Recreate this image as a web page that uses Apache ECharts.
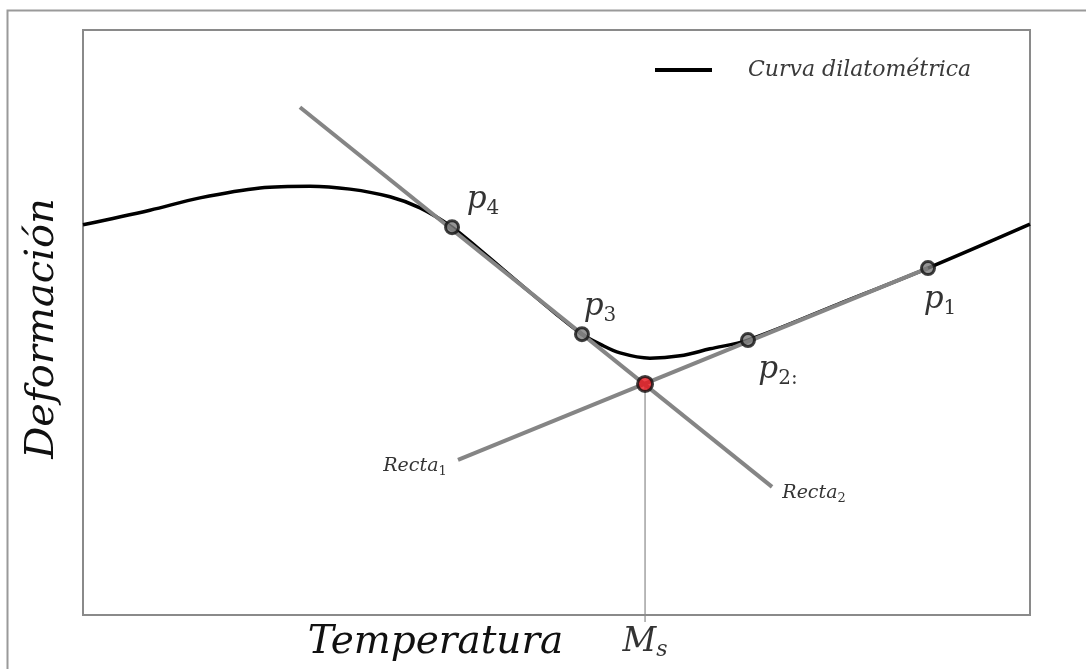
<!DOCTYPE html>
<html>
<head>
<meta charset="utf-8">
<script src="https://cdn.jsdelivr.net/npm/echarts@6/dist/echarts.min.js"></script>
<style>
html,body{margin:0;padding:0;background:#fff;}
#chart{width:1086px;height:669px;}
</style>
</head>
<body>
<div id="chart"></div>
<script>
// Dilatometric curve (Temperatura vs Deformación), arbitrary units 0-100
const curveX = [0, 7.07, 12.35, 18.69, 23.97, 28.19, 32.42, 35.59, 38.97, 41.92, 46.15, 49.84, 52.69, 54.59, 56.71, 59.87, 63.04, 66.21, 70.22, 79.7, 89.23, 100];
const curveY = [66.7, 69.2, 71.3, 73.0, 73.3, 72.8, 71.5, 69.6, 66.3, 62.4, 56.6, 51.6, 48.0, 46.3, 44.8, 43.9, 44.3, 45.5, 47.0, 53.1, 59.3, 66.8];

// Tangent lines
const recta1X = [39.6, 89.23];
const recta1Y = [26.5, 59.3];
const recta2X = [22.91, 72.76];
const recta2Y = [86.8, 21.9];

// Marked points p1..p4
const pointNames = ['1', '2:', '3', '4'];
const pointX = [89.23, 70.22, 52.69, 38.97];
const pointY = [59.3, 47.0, 48.0, 66.3];

// Ms (intersection) and its drop line
const msX = 59.35;
const msY = 39.5;
const msBottomY = -1.2;

const legendName = 'Curva dilatométrica';
const xName = 'Temperatura';
const yName = 'Deformación';

const SERIF = "'DejaVu Serif', 'Liberation Serif', serif";
const pairs = (xs, ys) => xs.map((x, i) => [x, ys[i]]);

const subRich = (size, subSize, subItalic) => ({
  m: { fontFamily: SERIF, fontStyle: 'italic', fontSize: size, lineHeight: size + 6, verticalAlign: 'middle', color: '#000' },
  s: { fontFamily: SERIF, fontStyle: subItalic ? 'italic' : 'normal', fontSize: subSize, lineHeight: subSize, verticalAlign: 'bottom', color: '#000' }
});

const pointOffsets = [[12, 32], [30, 30], [18, -27], [31, -27]];

const chart = echarts.init(document.getElementById('chart'), null, { renderer: 'canvas' });
chart.setOption({
  animation: false,
  backgroundColor: '#fff',
  graphic: [{
    type: 'rect',
    shape: { x: 7.5, y: 10.5, width: 1100, height: 700 },
    style: { fill: 'none', stroke: '#9a9a9a', lineWidth: 2 },
    silent: true
  }],
  grid: { left: 83, right: 56, top: 30, bottom: 54, show: true, borderColor: '#8a8a8a', borderWidth: 2, backgroundColor: 'transparent' },
  legend: {
    data: [legendName],
    left: 655, top: 58, padding: 0,
    icon: 'rect', itemWidth: 57, itemHeight: 4,
    textStyle: { fontFamily: SERIF, fontStyle: 'italic', fontSize: 22, lineHeight: 24, color: '#3a3a3a', padding: [0, 0, 0, 31] }
  },
  xAxis: {
    type: 'value', min: 0, max: 100,
    axisLine: { show: false }, axisTick: { show: false }, axisLabel: { show: false }, splitLine: { show: false },
    name: xName, nameLocation: 'middle', nameGap: 8,
    nameTextStyle: { fontFamily: SERIF, fontStyle: 'italic', fontSize: 39, color: '#111', padding: [0, 242, 0, 0] }
  },
  yAxis: {
    type: 'value', min: 0, max: 100,
    axisLine: { show: false }, axisTick: { show: false }, axisLabel: { show: false }, splitLine: { show: false },
    name: yName, nameLocation: 'middle', nameGap: 20,
    nameTextStyle: { fontFamily: SERIF, fontStyle: 'italic', fontSize: 40, color: '#111', padding: [0, 12, 0, 0] }
  },
  series: [
    {
      name: legendName, type: 'line', data: pairs(curveX, curveY),
      smooth: 0.35, symbol: 'none', z: 2,
      lineStyle: { color: '#000', width: 3.5 }, itemStyle: { color: '#000' }
    },
    {
      name: 'Recta1', type: 'line', data: pairs(recta1X, recta1Y), symbol: 'none', z: 3,
      lineStyle: { color: '#858585', width: 4 }
    },
    {
      name: 'Recta2', type: 'line', data: pairs(recta2X, recta2Y), symbol: 'none', z: 3,
      lineStyle: { color: '#858585', width: 4 }
    },
    {
      name: 'MsLine', type: 'line', data: [[msX, msY], [msX, msBottomY]], symbol: 'none', z: 3, clip: false,
      lineStyle: { color: '#8a8a8a', width: 1.2 }
    },
    {
      name: 'textAnchors', type: 'scatter', z: 6, clip: false, symbolSize: 1,
      itemStyle: { color: 'transparent' },
      data: [
        { value: [recta1X[0], recta1Y[0]], label: { show: true, position: 'inside', offset: [-43, 6], textBorderWidth: 0, formatter: '{m|Recta}{s|1}', rich: subRich(19, 13, false) } },
        { value: [recta2X[1], recta2Y[1]], label: { show: true, position: 'inside', offset: [42, 6], textBorderWidth: 0, formatter: '{m|Recta}{s|2}', rich: subRich(19, 13, false) } },
        { value: [msX, msBottomY], label: { show: true, position: 'inside', offset: [0, 20], textBorderWidth: 0, formatter: '{m|M}{s|s}', rich: subRich(33, 22, true) } }
      ]
    },
    {
      name: 'points', type: 'scatter', z: 8,
      symbolSize: 13,
      itemStyle: { color: '#7a7a7a', borderColor: '#111', borderWidth: 3 },
      data: pointX.map((x, i) => ({
        value: [x, pointY[i]],
        label: { show: true, position: 'inside', offset: pointOffsets[i], textBorderWidth: 0, formatter: '{m|p}{s|' + pointNames[i] + '}', rich: subRich(31, 20, false) }
      }))
    },
    {
      name: 'Ms', type: 'scatter', z: 9,
      symbolSize: 15,
      itemStyle: { color: '#e8141c', borderColor: '#111', borderWidth: 3 },
      data: [[msX, msY]]
    }
  ]
});
</script>
</body>
</html>
